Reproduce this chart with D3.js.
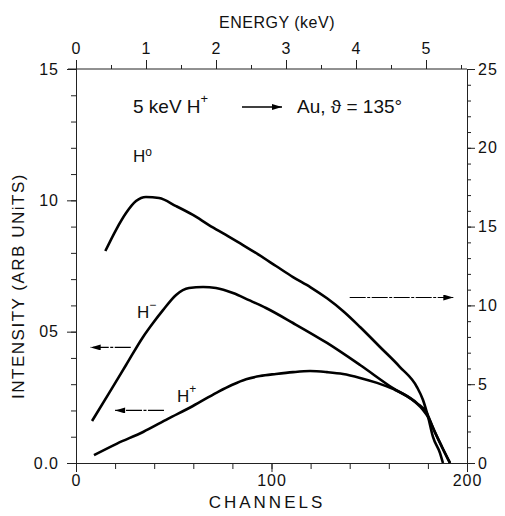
<!DOCTYPE html>
<html>
<head>
<meta charset="utf-8">
<script src="https://cdn.jsdelivr.net/npm/d3@7"></script>
<style>
  body { margin: 0; background: #fff; }
  svg { display: block; }
  text { font-family: "Liberation Sans", "DejaVu Sans", sans-serif; fill: #111; }
  .axis path, .axis line { stroke: #222; stroke-width: 1; }
  .axis text { font-size: 16px; letter-spacing: 1px; }
</style>
</head>
<body>
<svg id="chart" width="505" height="516"></svg>
<script>
// channel / intensity values
var hZeroChan = [15, 20.5, 25.6, 30.7, 35.8, 42.5, 51.2, 59.8, 68, 76.7, 85.4, 93.6, 102.3, 111, 120, 128.4, 137, 145.3, 155.5, 165.7, 174.4, 177.5, 180.1, 182.6, 186.2, 187.7];
var hZeroVal  = [13.45, 14.8, 15.86, 16.62, 16.88, 16.81, 16.3, 15.74, 15.1, 14.47, 13.83, 13.2, 12.5, 11.8, 11.15, 10.45, 9.6, 8.63, 7.36, 6.09, 4.82, 4.0, 2.92, 1.65, 0.63, 0];

var hMinusChan = [8.2, 16.9, 25.6, 34.3, 39.4, 44.5, 51.2, 57.8, 65, 71.6, 80.3, 88.5, 97.2, 111, 128.4, 145.3, 162.1, 174.4, 179.5, 182.6, 187.2, 191.3];
var hMinusVal  = [1.6, 2.66, 3.73, 4.8, 5.33, 5.82, 6.4, 6.66, 6.7, 6.66, 6.47, 6.2, 5.9, 5.33, 4.57, 3.73, 2.85, 2.28, 1.9, 1.33, 0.61, 0];

var hPlusChan = [9.2, 21, 34.3, 47, 59.8, 72, 80, 87, 94.1, 102.3, 111, 119.7, 128.4, 136.6, 145.3, 154, 162.1, 170.8, 177.5, 180.1, 183.6, 187.2, 191.3];
var hPlusVal  = [0.3, 0.74, 1.18, 1.68, 2.17, 2.68, 2.98, 3.19, 3.31, 3.39, 3.46, 3.5, 3.46, 3.39, 3.24, 3.05, 2.82, 2.47, 2.02, 1.75, 1.18, 0.61, 0];

var leftTicks = [0, 5, 10, 15];
var leftLabels = ["0.0", "05", "10", "15"];
var rightTicks = [0, 5, 10, 15, 20, 25];
var energyTicks = [0, 1, 2, 3, 4, 5];
var chanTicks = [0, 100, 200];

var svg = d3.select("#chart");
var pL = 76, pR = 467, pT = 69, pB = 463;

var x = d3.scaleLinear().domain([0, 200]).range([pL, pR]);
var yL = d3.scaleLinear().domain([0, 15]).range([pB, pT]);
var yR = d3.scaleLinear().domain([0, 25]).range([pB, pT]);
var xE = d3.scaleLinear().domain([0, 5]).range([pL, 426]);

function zip(a, b) { return a.map(function(d, i) { return [d, b[i]]; }); }

// minor ticks first, no labels
svg.append("g").attr("class", "axis").attr("transform", "translate(0," + pB + ")")
    .call(d3.axisBottom(x).tickValues(d3.range(0, 201, 20)).tickSize(6).tickFormat(""));
svg.append("g").attr("class", "axis").attr("transform", "translate(0," + pB + ")")
    .call(d3.axisBottom(x).tickValues(chanTicks).tickSize(9).tickPadding(3).tickFormat(d3.format("d")));

svg.append("g").attr("class", "axis").attr("transform", "translate(" + pL + ",0)")
    .call(d3.axisLeft(yL).tickValues(d3.range(0, 16, 1)).tickSize(5).tickFormat(""));
svg.append("g").attr("class", "axis").attr("transform", "translate(" + pL + ",0)")
    .call(d3.axisLeft(yL).tickValues(leftTicks).tickSize(9).tickPadding(8)
        .tickFormat(function(d, i) { return leftLabels[i]; }));

svg.append("g").attr("class", "axis").attr("transform", "translate(" + pR + ",0)")
    .call(d3.axisRight(yR).tickValues(d3.range(0, 26, 1)).tickSize(4).tickFormat(""));
svg.append("g").attr("class", "axis").attr("transform", "translate(" + pR + ",0)")
    .call(d3.axisRight(yR).tickValues(rightTicks).tickSize(8).tickPadding(3));

var topAx = svg.append("g").attr("class", "axis").attr("transform", "translate(0," + pT + ")");
topAx.call(d3.axisTop(xE).tickValues(d3.range(0, 5.6, 0.5)).tickSize(4).tickFormat(""));
topAx.select(".domain").remove();
var topAx2 = svg.append("g").attr("class", "axis").attr("transform", "translate(0," + pT + ")");
topAx2.call(d3.axisTop(xE).tickValues(energyTicks).tickSize(9).tickPadding(6).tickFormat(d3.format("d")));
topAx2.select(".domain").remove();
svg.append("line").attr("x1", pL - 8).attr("x2", pR).attr("y1", pT).attr("y2", pT)
    .attr("stroke", "#222");

// axis titles
svg.append("text").attr("x", 277).attr("y", 28).attr("text-anchor", "middle")
    .style("font-size", "16px").style("letter-spacing", "0.5px").text("ENERGY (keV)");
svg.append("text").attr("x", 267).attr("y", 508).attr("text-anchor", "middle")
    .style("font-size", "17px").style("letter-spacing", "3px").text("CHANNELS");
svg.append("text").attr("transform", "translate(24,286) rotate(-90)").attr("text-anchor", "middle")
    .style("font-size", "17px").style("letter-spacing", "1.5px").text("INTENSITY (ARB UNiTS)");

// curves
var lineL = d3.line().x(function(d) { return x(d[0]); }).y(function(d) { return yL(d[1]); })
    .curve(d3.curveMonotoneX);
var lineR = d3.line().x(function(d) { return x(d[0]); }).y(function(d) { return yR(d[1]); })
    .curve(d3.curveMonotoneX);

svg.append("path").datum(zip(hZeroChan, hZeroVal)).attr("d", lineR)
    .attr("fill", "none").attr("stroke", "#000").attr("stroke-width", 2.6);
svg.append("path").datum(zip(hMinusChan, hMinusVal)).attr("d", lineL)
    .attr("fill", "none").attr("stroke", "#000").attr("stroke-width", 2.6);
svg.append("path").datum(zip(hPlusChan, hPlusVal)).attr("d", lineL)
    .attr("fill", "none").attr("stroke", "#000").attr("stroke-width", 2.6);

// arrowhead marker
svg.append("defs").append("marker").attr("id", "head")
    .attr("viewBox", "0 0 10 6").attr("refX", 10).attr("refY", 3)
    .attr("markerWidth", 11).attr("markerHeight", 6).attr("markerUnits", "userSpaceOnUse")
    .attr("orient", "auto")
  .append("path").attr("d", "M0,0L10,3L0,6Z").attr("fill", "#000");

function arrow(x1, x2, yy) {
    svg.append("line").attr("x1", x1).attr("x2", x2).attr("y1", yy).attr("y2", yy)
        .attr("stroke", "#000").attr("stroke-width", 1.2).attr("stroke-dasharray", "16,1.5,3,1.5")
        .attr("marker-end", "url(#head)");
}
// which axis each curve belongs to
arrow(x(28), x(7.5), yL(4.4));
arrow(x(45), x(20), yL(2.0));
arrow(x(140), x(193), yR(10.5));

// curve labels
function label(tx, ty, sup, dy) {
    var t = svg.append("text").attr("x", tx).attr("y", ty).style("font-size", "17px");
    t.append("tspan").text("H");
    t.append("tspan").attr("dy", dy).style("font-size", "12px").text(sup);
}
label(133, 162, "o", -6);
label(137, 318, "\u2212", -9);
label(177, 402, "+", -9);

// title
var tt = svg.append("text").attr("x", 133).attr("y", 113).style("font-size", "19px");
tt.append("tspan").text("5 keV  H");
tt.append("tspan").attr("dy", -10).style("font-size", "13px").text("+");
var tt2 = svg.append("text").attr("x", 297).attr("y", 113).style("font-size", "19px");
tt2.text("Au,  \u03D1 = 135\u00B0");
svg.append("line").attr("x1", 242).attr("x2", 282).attr("y1", 107).attr("y2", 107)
    .attr("stroke", "#000").attr("stroke-width", 1.4).attr("marker-end", "url(#head)");
</script>
</body>
</html>
